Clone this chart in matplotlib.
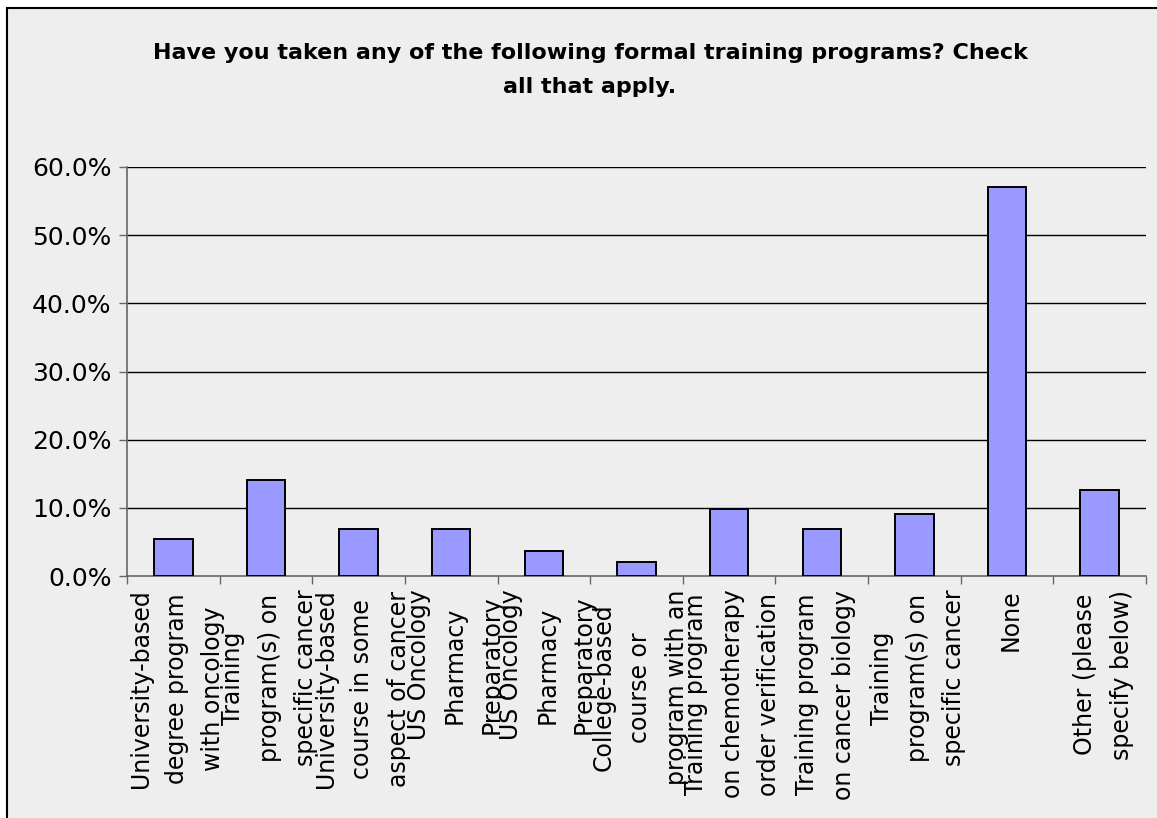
import matplotlib
matplotlib.use("Agg")
import matplotlib.pyplot as plt
from matplotlib.patches import Rectangle
from matplotlib.ticker import FixedLocator, FuncFormatter

categories = [
    "University-based\ndegree program\nwith oncology",
    "Training\nprogram(s) on\nspecific cancer",
    "University-based\ncourse in some\naspect of cancer",
    "US Oncology\nPharmacy\nPreparatory",
    "US Oncology\nPharmacy\nPreparatory",
    "College-based\ncourse or\nprogram with an",
    "Training program\non chemotherapy\norder verification",
    "Training program\non cancer biology",
    "Training\nprogram(s) on\nspecific cancer",
    "None",
    "Other (please\nspecify below)",
]
values = [5.4, 14.1, 6.9, 6.9, 3.6, 2.1, 9.9, 6.9, 9.1, 57.1, 12.6]
yticks = [0, 10, 20, 30, 40, 50, 60]
title = "Have you taken any of the following formal training programs? Check\nall that apply."

W, H = 1157, 818
bg = "#EEEEEE"
fig = plt.figure(figsize=(W / 100, H / 100), dpi=100, facecolor="white")
fig.patches.append(Rectangle((7 / W, -0.1), 1.2, 1 - 8 / H + 0.1, transform=fig.transFigure,
                             facecolor=bg, edgecolor="black", linewidth=1.5, zorder=-10))

ax = fig.add_axes([127 / W, 1 - 576 / H, (1146 - 127) / W, (576 - 167) / H])
ax.set_facecolor(bg)
ax.patch.set_alpha(0)

x = list(range(len(categories)))
ax.bar(x, values, width=0.415, color="#9999FF", edgecolor="black", linewidth=1.4, zorder=3)

ax.set_xlim(-0.5, len(categories) - 0.5)
ax.set_ylim(0, 60)
ax.yaxis.set_major_locator(FixedLocator(yticks))
ax.yaxis.set_major_formatter(FuncFormatter(lambda v, p: f"{v:.1f}%"))
for t in yticks[1:]:
    ax.axhline(t, color="black", linewidth=1.0, zorder=1)

for s in ["top", "right"]:
    ax.spines[s].set_visible(False)
for s in ["left", "bottom"]:
    ax.spines[s].set_color("#666666")
    ax.spines[s].set_linewidth(1.2)

ax.tick_params(axis="y", direction="out", length=6, width=1.0, color="#666666",
               labelsize=18, pad=5)
ax.set_xticks(x)
ax.set_xticklabels([])
ax.tick_params(axis="x", which="major", length=0)
ax.set_xticks([i - 0.5 for i in range(len(categories) + 1)], minor=True)
ax.tick_params(axis="x", which="minor", direction="out", length=6, width=1.0, color="#666666")

for i, lab in enumerate(categories):
    ax.text(i + 0.04, -2.0, lab, rotation=90, ha="center", va="top", multialignment="center",
            fontsize=17, linespacing=1.65, transform=ax.transData, clip_on=False)

fig.text(590 / W, 1 - 70 / H, title, ha="center", va="center", fontsize=16,
         fontweight="bold", linespacing=1.9)

fig.savefig("out.png", dpi=100, facecolor=fig.get_facecolor())
